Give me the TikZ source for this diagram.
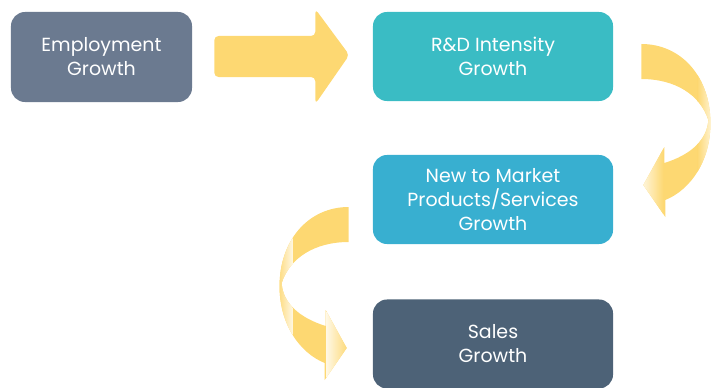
\documentclass[tikz,border=0pt]{standalone}
\usepackage{fontspec}
\setmainfont{Poppins}
\usetikzlibrary{calc}
\definecolor{empcol}{HTML}{6B7A90}
\definecolor{rdcol}{HTML}{3ABCC4}
\definecolor{newcol}{HTML}{38AFD0}
\definecolor{salescol}{HTML}{4D6277}
\definecolor{arrcol}{HTML}{FDD872}
\tikzset{
  stepbox/.style={rounded corners=10, text=white, align=center, inner sep=0pt,
    font=\fontsize{13.5}{17}\selectfont},
  flowarrow/.style={fill=arrcol, draw=none}
}
% twisted curved arrow, tail at the box, head back at the box below
\newcommand{\twistpath}{(28,-12.5) .. controls (67,-12.5) and (95,18.5) .. (97,61.5)
  .. controls (99,103.5) and (77,133.5) .. (52,143.5) -- (52,160.5) -- (30,128.5)
  -- (51,90.5) -- (51,106.5) .. controls (77,98.5) and (94,83.5) .. (95,63.5)
  .. controls (87,38.5) and (62,22.5) .. (28,22.5) -- cycle}
\newcommand{\twistarrow}{%
  \begin{scope}
    \clip \twistpath;
    \fill[arrcol] (0,-20) rectangle (110,170);
    \shade[left color=arrcol, right color=arrcol!20] (84,-20) rectangle (100,170);
    \shade[left color=arrcol!20, right color=arrcol] (28,80) rectangle (50,170);
  \end{scope}}
\begin{document}
\begin{tikzpicture}[x=0.025cm, y=-0.025cm]
\useasboundingbox (0,0) rectangle (720,387);
\node[stepbox, fill=empcol, minimum width=4.525cm, minimum height=2.25cm] (emp) at (101.5,57) {Employment\\Growth};
\node[stepbox, fill=rdcol, minimum width=6cm, minimum height=2.225cm] (rd) at (493,56.5) {R\&D Intensity\\Growth};
\node[stepbox, fill=newcol, minimum width=6cm, minimum height=2.225cm] (new) at (493,199.5) {New to Market\\Products/Services\\Growth};
\node[stepbox, fill=salescol, minimum width=6cm, minimum height=2.225cm] (sales) at (493,344) {Sales\\Growth};
% straight arrow
\begin{scope}[shift={(emp.east)}]
  \fill[flowarrow, rounded corners=3] (22,-21) -- (123,-21) -- (123,-48) -- (157,-2)
    -- (123,47) -- (123,20) -- (22,20) -- cycle;
\end{scope}
% curved arrows
\begin{scope}[shift={(rd.east)}]
  \twistarrow
\end{scope}
\begin{scope}[shift={($(new.west)+(4,20)$)}, xscale=-1]
  \twistarrow
\end{scope}
\end{tikzpicture}
\end{document}
